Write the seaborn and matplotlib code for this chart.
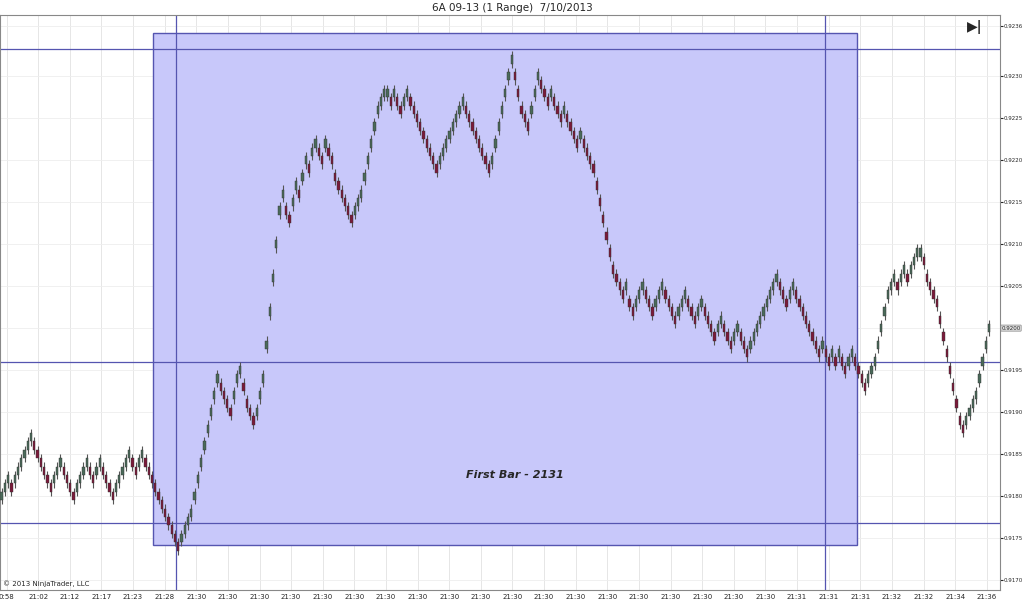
import numpy as np
import matplotlib
matplotlib.use("Agg")
import matplotlib.pyplot as plt
import seaborn as sns

sns.set_style("white")

base = 0.9170
tick = 0.0001
# bar mid price in ticks above 0.9170
closes = [10,11,12,11,12,13,14,15,16,17,16,15,14,13,12,11,12,13,14,13,12,11,10,11,12,13,14,13,12,13,14,13,12,11,10,11,12,13,14,15,14,13,14,15,14,
          13,12,11,10,9,8,7,6,5,4,
          5,6,7,8,10,12,14,16,18,20,22,24,
          23,22,21,20,22,24,25,23,21,20,19,20,22,24,
          28,32,36,40,44,46,
          44,43,45,47,46,48,50,49,51,52,51,50,52,51,50,
          48,47,46,45,44,43,44,45,46,
          48,50,52,54,56,57,58,58,
          57,58,57,56,57,58,57,56,
          55,54,53,52,51,50,49,50,51,
          52,53,54,55,56,57,56,55,54,
          53,52,51,50,49,50,
          52,54,56,58,60,62,
          60,58,56,55,54,
          56,58,60,59,58,
          57,58,57,56,55,56,55,54,53,52,53,52,51,50,49,
          47,45,43,41,39,37,
          36,35,34,35,33,32,33,34,35,34,33,32,33,34,35,34,33,32,31,32,33,34,33,32,31,32,33,
          32,31,30,29,30,31,30,29,28,29,30,29,28,27,28,
          29,30,31,32,33,34,35,36,35,34,33,34,35,34,33,
          32,31,30,29,28,27,28,27,26,
          27,26,27,26,25,26,27,26,25,
          24,23,24,25,26,28,
          30,32,34,35,36,35,36,37,36,37,38,39,
          39,38,36,35,34,33,31,29,27,25,23,21,19,18,
          19,20,21,22,24,26,28,30]
time_labels = ["0:58","21:02","21:12","21:17","21:23","21:28"] + ["21:30"]*19 + ["21:31","21:31","21:31","21:32","21:32","21:34","21:36"]
y_ticks = [0.9170,0.9175,0.9180,0.9185,0.9190,0.9195,0.9200,0.9205,0.9210,0.9215,0.9220,0.9225,0.9230,0.9236]

n = len(closes)
px = 3.27  # pixels per bar
W = 1000
fig = plt.figure(figsize=(10.24, 6.16), dpi=100)
ax = fig.add_axes([0, 26/616, W/1024, 575/616])
xmax = W/px
ax.set_xlim(-0.5, xmax - 0.5)
ax.set_ylim(0.91688, 0.92373)

def xb(p): return p/px - 0.5
ax.axvspan(xb(153), xb(857), ymin=(0.91742-0.91688)/(0.92373-0.91688), ymax=(0.92351-0.91688)/(0.92373-0.91688),
           facecolor="#c8c8fa", edgecolor="#5555b0", lw=1, zorder=1)
for yv in [0.92332, 0.91960, 0.91768]:
    ax.axhline(yv, color="#5555b0", lw=0.9, zorder=2)
for xv in [176, 825]:
    ax.axvline(xb(xv), color="#5555b0", lw=0.9, zorder=2)

c = np.array(closes, dtype=float)
prev = np.concatenate([[c[0]-1], c[:-1]])
up = c >= prev
idx = np.arange(n)
mid = base + c*tick
ax.vlines(idx, mid - 1.0*tick, mid + 1.0*tick, color="#555555", lw=0.8, zorder=3)
body_lo = mid - 0.5*tick
colors = np.where(up, "#4a6a5a", "#7a1a3a")
ax.bar(idx, 1.0*tick, bottom=body_lo, width=0.7, color=colors, edgecolor="#333333", lw=0.3, zorder=4)

ax.text(xb(515), 0.91825, "First Bar - 2131", ha="center", va="center", fontsize=8,
        style="italic", weight="bold", zorder=5)

xt = [k*9.67 + 1.5 for k in range(len(time_labels))]
ax.set_xticks(xt)
ax.set_xticklabels(time_labels, fontsize=5)
ax.yaxis.tick_right()
ax.set_yticks(y_ticks)
ax.set_yticklabels(["" if abs(v-0.92) < 1e-9 else f"{v:.4f}" for v in y_ticks], fontsize=4)
ax.tick_params(axis="y", length=2, pad=0.5)
ax.tick_params(axis="x", length=2, pad=1)
ax.grid(True, axis="x", color="#e6e6e6", lw=0.7, zorder=0)
ax.grid(True, axis="y", color="#eeeeee", lw=0.6, zorder=0)
ax.set_axisbelow(True)
for s in ax.spines.values():
    s.set_color("#888888"); s.set_linewidth(0.8)

ax.annotate("0.9200", xy=(1.0, 0.9200), xycoords=("axes fraction", "data"), xytext=(1, 0),
            textcoords="offset points", fontsize=4, va="center",
            bbox=dict(boxstyle="round,pad=0.1", fc="#dddddd", ec="#888888", lw=0.5))
fig.text(0.5, 1 - 8/616, "6A 09-13 (1 Range)  7/10/2013", ha="center", va="center", fontsize=7.5)
fig.text(975/1024, 1 - 27/616, "▶|", ha="center", va="center", fontsize=10, weight="bold")
fig.text(3/1024, 1 - 584/616, "© 2013 NinjaTrader, LLC", fontsize=5, va="center")
fig.savefig("out.png", dpi=100, facecolor="white")
